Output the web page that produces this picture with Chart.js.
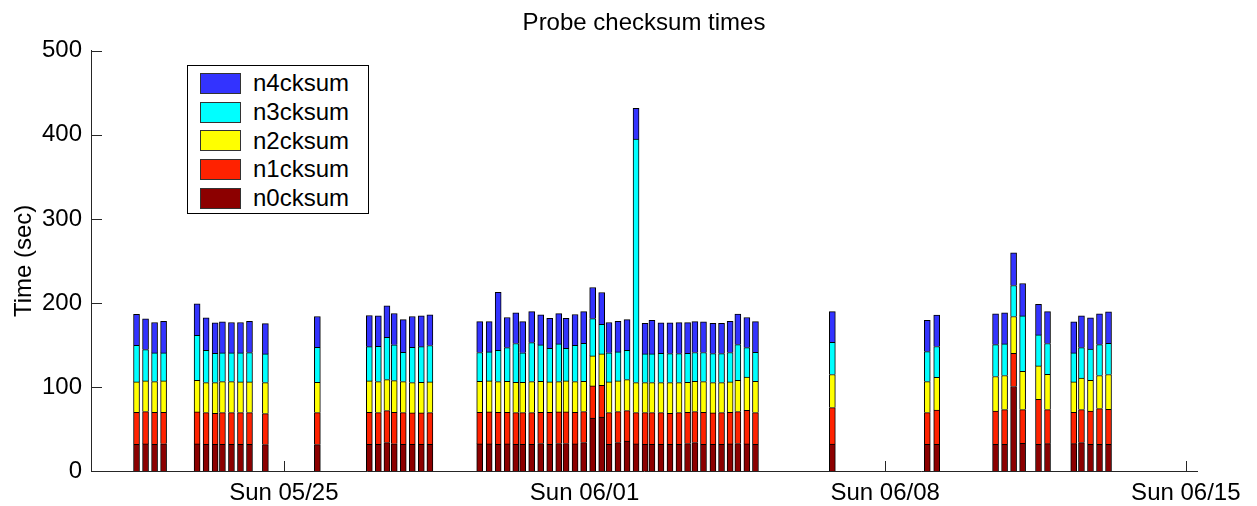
<!DOCTYPE html>
<html>
<head>
<meta charset="utf-8">
<script src="https://cdn.jsdelivr.net/npm/chart.js@4.4.1/dist/chart.umd.min.js"></script>
<style>
  body { margin: 0; background: #fff; }
  #wrap { position: relative; width: 1257px; height: 506px; }
  #legend {
    position: absolute; left: 187px; top: 65px; width: 182px; height: 149px;
    box-sizing: border-box; border: 1px solid #000; background: #fff;
    padding-top: 3px; font: 24px "Liberation Sans", Arial, sans-serif; color: #000;
  }
  #legend .row { display: flex; align-items: center; height: 28.7px; }
  #legend .sw { width: 41px; height: 21px; box-sizing: border-box; border: 1px solid #333; margin: 0 12px 0 12px; }
</style>
</head>
<body>
<div id="wrap">
  <canvas id="chart" width="1257" height="506"></canvas>
  <div id="legend"></div>
</div>
<script>
// sample times, in days from Sun 05/25 00:00
var sampleDays = [
  -3.43, -3.22, -3.01, -2.80,
  -2.02, -1.81, -1.60, -1.43, -1.22, -1.01, -0.80, -0.43, 0.78,
  1.99, 2.20, 2.40, 2.57, 2.78, 2.99, 3.20, 3.40,
  4.56, 4.78, 4.99, 5.20, 5.40, 5.56, 5.77, 5.98, 6.19, 6.40, 6.57, 6.78, 6.98, 7.19, 7.40,
  7.57, 7.78, 7.99, 8.20, 8.41, 8.57, 8.78, 8.99, 9.20, 9.40, 9.57, 9.77, 9.99, 10.19, 10.39,
  10.57, 10.78, 10.98,
  12.77, 14.98, 15.20, 16.57, 16.78, 16.99, 17.20, 17.57, 17.78, 18.39, 18.57, 18.78, 18.99, 19.20
];

var n0cksum = [
  31.8, 32.2, 31.8, 32.4,
  32.2, 31.8, 31.8, 31.8, 31.8, 31.8, 31.8, 31.4, 31.4,
  31.8, 31.8, 33.8, 32.4, 31.8, 31.8, 31.8, 31.8,
  32.2, 32.2, 31.8, 32.2, 31.8, 31.8, 31.8, 32.6, 31.8, 32.6, 32.6, 32.2, 33.8, 63.1, 64.3,
  31.8, 33.8, 35.7, 32.2, 31.8, 31.8, 31.8, 31.8, 31.8, 32.6, 33.8, 31.8, 31.8, 31.8, 32.2,
  32.6, 32.2, 31.8,
  32.1, 31.7, 31.7, 31.7, 31.7, 100.5, 33.0, 31.7, 32.5, 32.5, 33.8, 31.7, 31.7, 31.7
];
var n1cksum = [
  38.1, 38.5, 38.1, 37.5,
  38.1, 37.7, 36.9, 37.7, 37.7, 37.7, 37.7, 36.9, 38.1,
  38.1, 37.7, 38.1, 37.5, 37.7, 37.3, 37.3, 37.7,
  37.7, 38.1, 38.1, 37.7, 37.7, 37.7, 37.7, 37.3, 38.1, 37.7, 37.7, 37.7, 36.9, 38.1, 37.7,
  37.7, 36.9, 36.2, 37.3, 37.7, 37.7, 37.7, 36.9, 37.7, 37.3, 36.9, 38.1, 37.3, 37.7, 37.7,
  38.1, 40.0, 37.7,
  43.4, 37.8, 40.9, 39.7, 41.4, 39.6, 40.1, 53.7, 40.6, 37.4, 39.3, 39.7, 42.6, 41.8
];
var n2cksum = [
  36.1, 36.5, 36.5, 37.3,
  37.7, 35.7, 36.5, 36.9, 36.9, 36.5, 36.5, 36.9, 36.1,
  37.3, 36.9, 36.9, 37.7, 36.9, 36.1, 36.5, 36.5,
  36.9, 36.9, 36.5, 36.9, 36.1, 36.1, 36.9, 36.9, 36.1, 36.1, 36.9, 36.5, 36.1, 35.7, 37.3,
  36.5, 36.5, 36.9, 35.7, 35.7, 35.7, 35.7, 36.5, 35.7, 35.7, 36.1, 36.5, 36.1, 35.7, 36.1,
  37.3, 39.7, 37.3,
  39.3, 36.9, 38.9, 41.0, 40.5, 43.7, 45.6, 39.6, 42.0, 36.1, 37.6, 36.6, 39.3, 41.3
];
var n3cksum = [
  43.6, 37.3, 34.1, 33.3,
  53.5, 38.5, 34.9, 34.1, 34.1, 34.5, 34.9, 34.1, 41.6,
  40.7, 41.9, 50.4, 42.5, 34.9, 42.0, 42.3, 43.3,
  34.2, 34.5, 37.3, 40.1, 46.1, 35.0, 46.4, 43.2, 40.0, 44.8, 38.8, 43.2, 45.2, 44.5, 35.3,
  34.6, 34.5, 34.9, 289.7, 34.1, 34.1, 34.9, 34.5, 34.5, 34.5, 34.2, 34.6, 34.5, 34.5, 35.0,
  42.4, 35.0, 34.5,
  38.4, 35.7, 36.6, 38.0, 37.6, 36.9, 65.8, 36.9, 36.6, 34.5, 36.2, 37.2, 36.8, 37.2
];
var n4cksum = [
  36.9, 36.5, 36.2, 37.7,
  37.3, 38.5, 36.1, 36.9, 36.2, 36.2, 37.3, 36.1, 36.6,
  37.1, 36.3, 37.2, 37.3, 38.9, 36.6, 36.7, 36.4,
  36.8, 36.1, 69.0, 35.7, 36.4, 37.2, 36.9, 35.8, 35.7, 36.1, 35.7, 36.6, 37.7, 36.9, 37.8,
  36.1, 36.5, 36.5, 36.5, 36.5, 40.1, 36.1, 36.5, 36.9, 36.5, 36.8, 36.4, 36.1, 36.1, 37.2,
  36.2, 35.7, 36.5,
  36.5, 37.3, 37.3, 36.5, 36.9, 38.8, 38.6, 36.5, 38.0, 36.9, 37.6, 37.0, 36.5, 37.3
];

var tickDays = [0, 7, 14, 21];
var tickLabels = ["Sun 05/25", "Sun 06/01", "Sun 06/08", "Sun 06/15"];
var yTicks = [0, 100, 200, 300, 400, 500];

var axisColor = "#262626";
var font = "'Liberation Sans', Arial, sans-serif";

function points(values) {
  return sampleDays.map(function (d, i) { return { x: d, y: values[i] }; });
}

var series = [
  { label: "n0cksum", values: n0cksum, color: "#8c0000" },
  { label: "n1cksum", values: n1cksum, color: "#ff2200" },
  { label: "n2cksum", values: n2cksum, color: "#ffff00" },
  { label: "n3cksum", values: n3cksum, color: "#00ffff" },
  { label: "n4cksum", values: n4cksum, color: "#3333ff" }
];

// tick marks pointing into the plot, like the original
var inwardTicks = {
  id: "inwardTicks",
  beforeDatasetsDraw: function (chart) {
    var ctx = chart.ctx, a = chart.chartArea, x = chart.scales.x, y = chart.scales.y;
    ctx.save();
    ctx.strokeStyle = axisColor;
    ctx.lineWidth = 1;
    ctx.beginPath();
    x.ticks.forEach(function (t) {
      var px = Math.round(x.getPixelForValue(t.value)) + 0.5;
      ctx.moveTo(px, a.bottom);
      ctx.lineTo(px, a.bottom - 10);
    });
    y.ticks.forEach(function (t) {
      var py = Math.round(y.getPixelForValue(t.value)) + 0.5;
      ctx.moveTo(a.left, py);
      ctx.lineTo(a.left + 11, py);
    });
    ctx.stroke();
    ctx.restore();
  }
};

var chart = new Chart(document.getElementById("chart"), {
  type: "bar",
  data: {
    datasets: series.map(function (s) {
      return {
        label: s.label,
        data: points(s.values),
        backgroundColor: s.color,
        borderColor: "#000",
        borderWidth: 1,
        barThickness: 6
      };
    })
  },
  options: {
    responsive: false,
    animation: false,
    layout: { padding: { left: 0, right: 60, top: 0, bottom: 0 } },
    plugins: {
      legend: { display: false },
      tooltip: { enabled: false },
      title: {
        display: true,
        fullSize: false,
        text: "Probe checksum times",
        color: "#000",
        font: { family: font, size: 24, weight: "normal" },
        padding: { top: 9, bottom: 13 }
      }
    },
    scales: {
      x: {
        type: "linear",
        stacked: true,
        offset: false,
        min: -4.49,
        max: 21.26,
        grid: { display: false, drawTicks: false },
        border: { display: true, color: axisColor, width: 1 },
        afterBuildTicks: function (scale) {
          scale.ticks = tickDays.map(function (v) { return { value: v }; });
        },
        afterFit: function (scale) {
          scale.height = 35;
          scale.paddingLeft = 0;
          scale.paddingRight = 0;
        },
        ticks: {
          autoSkip: false,
          maxRotation: 0,
          padding: 8,
          color: "#000",
          font: { family: font, size: 24 },
          callback: function (v) {
            var i = tickDays.indexOf(v);
            return i >= 0 ? tickLabels[i] : "";
          }
        }
      },
      y: {
        stacked: true,
        min: 0,
        max: 500,
        grid: { display: false, drawTicks: false },
        border: { display: true, color: axisColor, width: 1 },
        afterBuildTicks: function (scale) {
          scale.ticks = yTicks.map(function (v) { return { value: v }; });
        },
        afterFit: function (scale) {
          scale.width = 91;
          scale.paddingTop = 0;
          scale.paddingBottom = 0;
        },
        ticks: {
          padding: 9,
          color: "#000",
          font: { family: font, size: 24 }
        },
        title: {
          display: true,
          text: "Time (sec)",
          color: "#000",
          font: { family: font, size: 24 },
          padding: { top: 10, bottom: 0 }
        }
      }
    }
  },
  plugins: [inwardTicks]
});

// legend box inside the plot, top entry first
var legend = document.getElementById("legend");
chart.data.datasets.slice().reverse().forEach(function (ds) {
  var row = document.createElement("div");
  row.className = "row";
  var sw = document.createElement("span");
  sw.className = "sw";
  sw.style.background = ds.backgroundColor;
  var txt = document.createElement("span");
  txt.textContent = ds.label;
  row.appendChild(sw);
  row.appendChild(txt);
  legend.appendChild(row);
});
</script>
</body>
</html>
